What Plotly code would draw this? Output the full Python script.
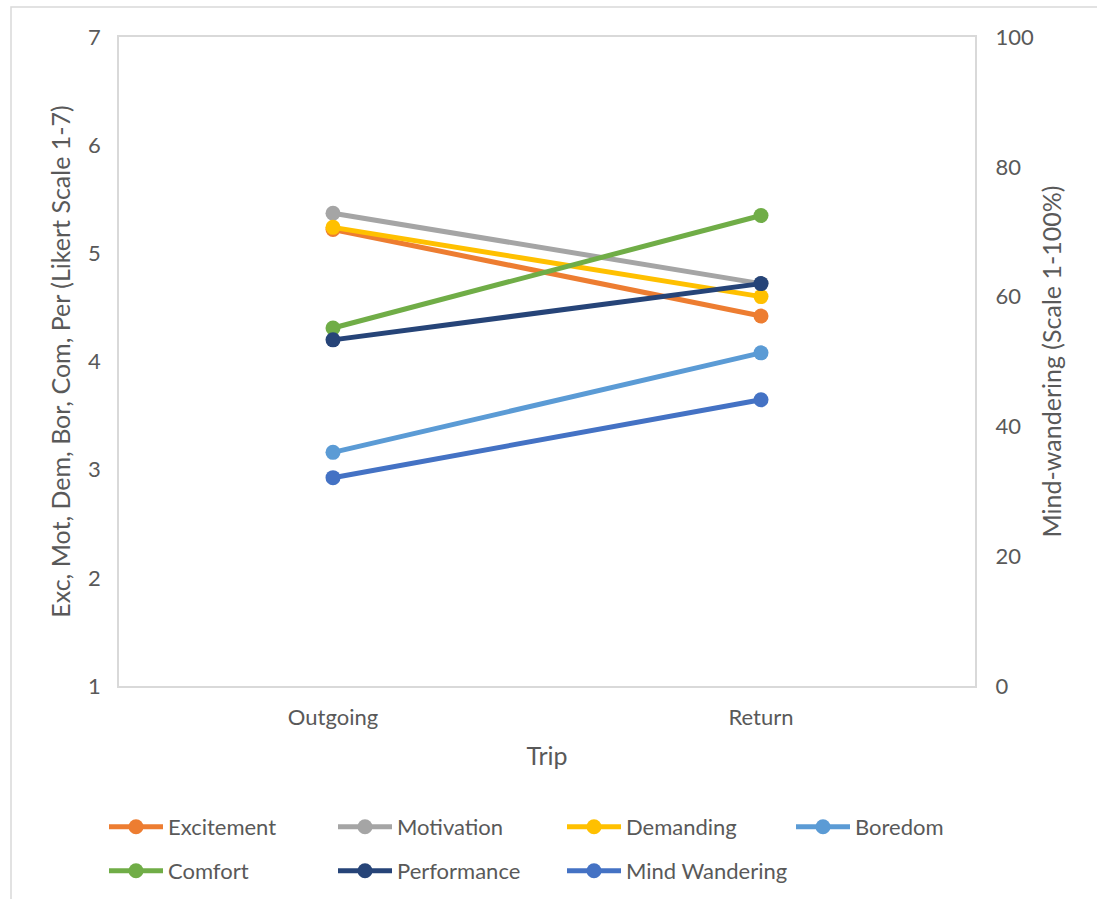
import plotly.graph_objects as go

trips = ["Outgoing", "Return"]
excitement = [5.22, 4.42]
motivation = [5.37, 4.72]
demanding = [5.24, 4.60]
boredom = [3.16, 4.08]
comfort = [4.31, 5.35]
performance = [4.20, 4.72]
mind_wandering = [32.1, 44.1]

series = [
    ("Excitement", excitement, "#ED7D31", "y", "legend"),
    ("Motivation", motivation, "#A5A5A5", "y", "legend"),
    ("Demanding", demanding, "#FFC000", "y", "legend"),
    ("Boredom", boredom, "#5B9BD5", "y", "legend"),
    ("Comfort", comfort, "#70AD47", "y", "legend2"),
    ("Performance", performance, "#264478", "y", "legend2"),
    ("Mind Wandering", mind_wandering, "#4472C4", "y2", "legend2"),
]

fig = go.Figure()
for name, vals, color, ax, lg in series:
    fig.add_trace(go.Scatter(
        x=trips, y=vals, name=name, yaxis=ax, legend=lg, mode="lines+markers",
        line=dict(color=color, width=5),
        marker=dict(color=color, size=15),
    ))

font = dict(family="Lato, 'Open Sans', sans-serif", color="#595959")
W, H = 1097, 899
L, R, T, B = 119, 975, 37, 686

def py(px):
    return (B - px) / (B - T)

def px_x(px):
    return (px - L) / (R - L)

leg_common = dict(orientation="h", xanchor="left", yanchor="middle",
                  entrywidth=160, entrywidthmode="pixels", itemwidth=54,
                  font=dict(size=22, **font), bgcolor="rgba(0,0,0,0)")

fig.update_layout(
    width=W, height=H,
    margin=dict(l=L, r=W - R, t=T, b=H - B, autoexpand=False),
    plot_bgcolor="white", paper_bgcolor="white",
    font=dict(size=22, **font),
    showlegend=True,
    legend=dict(x=px_x(104), y=py(827), **leg_common),
    legend2=dict(x=px_x(104), y=py(871), **leg_common),
    xaxis=dict(type="category", range=[-0.5, 1.5], showgrid=False, automargin=False,
               showline=True, linecolor="#D9D9D9", linewidth=1.5, mirror=True,
               ticks="outside", ticklen=11, tickcolor="rgba(0,0,0,0)",
               tickfont=dict(size=22, **font),
               title=dict(text="Trip", font=dict(size=25, **font), standoff=18)),
    yaxis=dict(range=[1, 7], dtick=1, showgrid=False, zeroline=False, automargin=False,
               showline=True, linecolor="#D9D9D9", linewidth=1.5, mirror=True,
               ticks="outside", ticklen=12, tickcolor="rgba(0,0,0,0)",
               tickfont=dict(size=22, **font),
               title=dict(text="Exc, Mot, Dem, Bor, Com, Per (Likert Scale 1-7)",
                          font=dict(size=25, **font), standoff=10)),
    yaxis2=dict(range=[0, 100], dtick=20, overlaying="y", side="right", automargin=False,
                showgrid=False, zeroline=False, showline=False,
                ticks="outside", ticklen=15, tickcolor="rgba(0,0,0,0)",
                tickfont=dict(size=22, **font),
                title=dict(text="Mind-wandering (Scale 1-100%)",
                           font=dict(size=25, **font), standoff=10)),
)

# outer chart border (left and top edges visible)
fig.add_shape(type="rect", xref="paper", yref="paper",
              x0=px_x(11), x1=px_x(1200), y0=py(1000), y1=py(7),
              line=dict(color="#D9D9D9", width=1.5), layer="below")

fig.write_html("out.html")
